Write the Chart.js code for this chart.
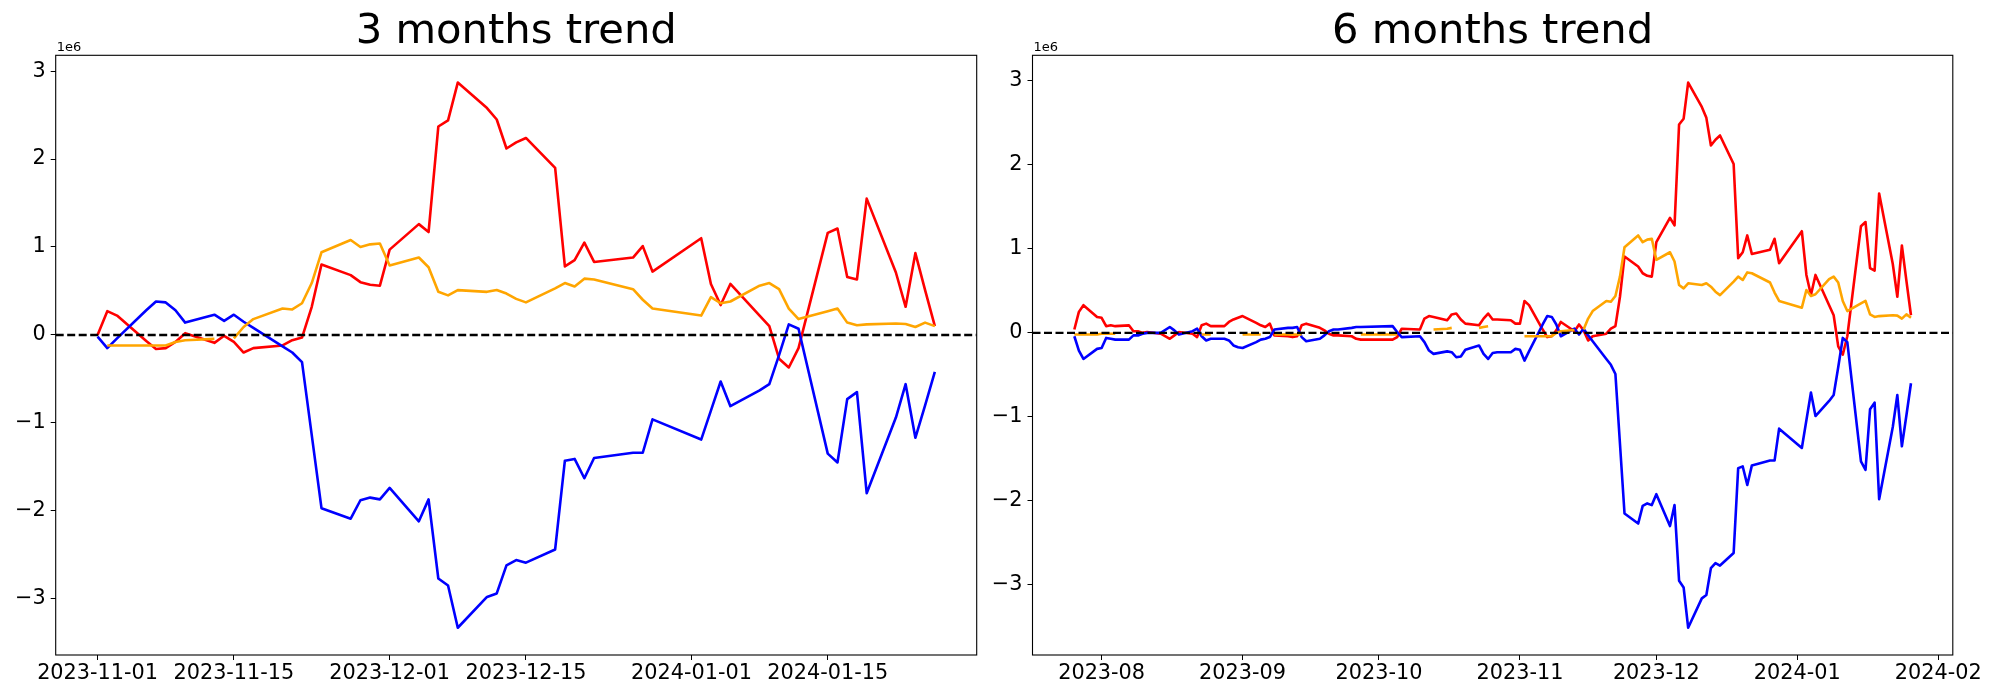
<!DOCTYPE html>
<html>
<head>
<meta charset="utf-8">
<script src="https://cdn.jsdelivr.net/npm/chart.js@4.4.1/dist/chart.umd.min.js"></script>
<style>
  body { margin: 0; background: #fff; width: 2000px; height: 700px; overflow: hidden; position: relative; }
  .box { position: absolute; top: 0; height: 700px; }
</style>
</head>
<body>
<div class="box" style="left:0;width:1000px"><canvas id="chart3m" width="1000" height="700"></canvas></div>
<div class="box" style="left:980px;width:1020px"><canvas id="chart6m" width="1020" height="700"></canvas></div>
<script>
// values are in millions (the "1e6" offset shown over each axis)

// 3 months
const dates3m = ['2023-11-01','2023-11-02','2023-11-03','2023-11-06','2023-11-07','2023-11-08','2023-11-09','2023-11-10','2023-11-13','2023-11-14',
  '2023-11-15','2023-11-16','2023-11-17','2023-11-20','2023-11-21','2023-11-22','2023-11-23','2023-11-24','2023-11-27','2023-11-28',
  '2023-11-29','2023-11-30','2023-12-01','2023-12-04','2023-12-05','2023-12-06','2023-12-07','2023-12-08','2023-12-11','2023-12-12',
  '2023-12-13','2023-12-14','2023-12-15','2023-12-18','2023-12-19','2023-12-20','2023-12-21','2023-12-22','2023-12-26','2023-12-27',
  '2023-12-28','2024-01-02','2024-01-03','2024-01-04','2024-01-05','2024-01-08','2024-01-09','2024-01-10','2024-01-11','2024-01-12',
  '2024-01-15','2024-01-16','2024-01-17','2024-01-18','2024-01-19','2024-01-22','2024-01-23','2024-01-24','2024-01-25','2024-01-26'];
const red3m = [0.00, 0.27, 0.22, -0.07, -0.16, -0.15, -0.08, 0.02, -0.09, -0.01,
  -0.08, -0.20, -0.15, -0.12, -0.06, -0.03, 0.32, 0.80, 0.68, 0.60,
  0.57, 0.56, 0.97, 1.26, 1.17, 2.37, 2.44, 2.87, 2.58, 2.45,
  2.12, 2.19, 2.24, 1.90, 0.78, 0.85, 1.05, 0.83, 0.88, 1.01,
  0.72, 1.10, 0.58, 0.34, 0.58, 0.22, 0.10, -0.27, -0.37, -0.15,
  1.16, 1.21, 0.66, 0.63, 1.55, 0.71, 0.32, 0.93, 0.51, 0.10];
const blue3m = [-0.02, -0.15, -0.04, 0.28, 0.38, 0.37, 0.28, 0.14, 0.23, 0.16,
  0.23, 0.15, 0.08, -0.13, -0.20, -0.31, -1.14, -1.97, -2.09, -1.88,
  -1.85, -1.87, -1.74, -2.12, -1.87, -2.77, -2.85, -3.33, -2.98, -2.94,
  -2.62, -2.56, -2.59, -2.44, -1.43, -1.41, -1.63, -1.40, -1.34, -1.34,
  -0.96, -1.19, -0.86, -0.53, -0.81, -0.63, -0.56, -0.23, 0.12, 0.07,
  -1.35, -1.45, -0.73, -0.65, -1.80, -0.94, -0.56, -1.17, -0.80, -0.42];
const orange3m = [null, -0.12, -0.12, -0.12, -0.12, -0.12, -0.08, -0.06, -0.045, null,
  -0.04, 0.09, 0.18, 0.30, 0.29, 0.36, 0.59, 0.94, 1.08, 1.00,
  1.03, 1.04, 0.79, 0.88, 0.77, 0.49, 0.45, 0.51, 0.49, 0.51,
  0.47, 0.41, 0.37, 0.53, 0.59, 0.55, 0.64, 0.63, 0.52, 0.40,
  0.30, 0.22, 0.43, 0.36, 0.38, 0.56, 0.59, 0.52, 0.30, 0.18,
  0.27, 0.30, 0.14, 0.11, 0.12, 0.13, 0.125, 0.09, 0.14, 0.10];
const ticks3m = ['2023-11-01', '2023-11-15', '2023-12-01', '2023-12-15', '2024-01-01', '2024-01-15'];

// 6 months
const dates6m = ['2023-07-26','2023-07-27','2023-07-28','2023-07-31','2023-08-01','2023-08-02','2023-08-03','2023-08-04','2023-08-07','2023-08-08',
  '2023-08-09','2023-08-10','2023-08-11','2023-08-14','2023-08-16','2023-08-17','2023-08-18','2023-08-21','2023-08-22','2023-08-23',
  '2023-08-24','2023-08-25','2023-08-28','2023-08-29','2023-08-30','2023-08-31','2023-09-01','2023-09-04','2023-09-05','2023-09-06',
  '2023-09-07','2023-09-08','2023-09-11','2023-09-12','2023-09-13','2023-09-14','2023-09-15','2023-09-18','2023-09-19','2023-09-20',
  '2023-09-21','2023-09-22','2023-09-25','2023-09-26','2023-09-27','2023-10-04','2023-10-05','2023-10-06','2023-10-10','2023-10-11',
  '2023-10-12','2023-10-13','2023-10-16','2023-10-17','2023-10-18','2023-10-19','2023-10-20','2023-10-23','2023-10-24','2023-10-25',
  '2023-10-26','2023-10-27','2023-10-30','2023-10-31'].concat(dates3m);
const red6m = [0.04, 0.25, 0.33, 0.19, 0.18, 0.08, 0.09, 0.08, 0.09, 0.02,
  0.02, 0.00, 0.01, -0.01, -0.07, -0.03, 0.01, -0.01, -0.05, 0.09,
  0.11, 0.08, 0.08, 0.13, 0.16, 0.18, 0.20, 0.12, 0.09, 0.07,
  0.11, -0.03, -0.04, -0.05, -0.04, 0.09, 0.11, 0.06, 0.03, -0.01,
  -0.03, -0.03, -0.04, -0.07, -0.08, -0.08, -0.05, 0.05, 0.04, 0.17,
  0.20, 0.19, 0.15, 0.22, 0.23, 0.16, 0.11, 0.09, 0.17, 0.23,
  0.16, 0.16, 0.15, 0.11,
  0.11, 0.38, 0.33, 0.04, -0.05, -0.04, 0.03, 0.13, 0.02, 0.10,
  0.03, -0.09, -0.04, -0.01, 0.05, 0.08, 0.43, 0.91, 0.79, 0.71,
  0.68, 0.67, 1.08, 1.37, 1.28, 2.48, 2.55, 2.98, 2.69, 2.56,
  2.23, 2.30, 2.35, 2.01, 0.89, 0.96, 1.16, 0.94, 0.99, 1.12,
  0.83, 1.21, 0.69, 0.45, 0.69, 0.33, 0.21, -0.16, -0.26, -0.04,
  1.27, 1.32, 0.77, 0.74, 1.66, 0.82, 0.43, 1.04, 0.62, 0.21];
const blue6m = [-0.04, -0.21, -0.31, -0.19, -0.18, -0.06, -0.07, -0.08, -0.08, -0.03,
  -0.03, -0.01, 0.00, 0.00, 0.07, 0.03, -0.02, 0.02, 0.05, -0.04,
  -0.09, -0.07, -0.07, -0.09, -0.15, -0.17, -0.18, -0.11, -0.08, -0.07,
  -0.05, 0.04, 0.06, 0.06, 0.07, -0.05, -0.10, -0.07, -0.03, 0.02,
  0.04, 0.04, 0.06, 0.07, 0.07, 0.08, 0.01, -0.05, -0.04, -0.11,
  -0.21, -0.25, -0.22, -0.23, -0.29, -0.28, -0.20, -0.15, -0.25, -0.31,
  -0.24, -0.23, -0.23, -0.19,
  -0.20, -0.33, -0.22, 0.10, 0.20, 0.19, 0.10, -0.04, 0.05, -0.02,
  0.05, -0.03, -0.10, -0.31, -0.38, -0.49, -1.32, -2.15, -2.27, -2.06,
  -2.03, -2.05, -1.92, -2.30, -2.05, -2.95, -3.03, -3.51, -3.16, -3.12,
  -2.80, -2.74, -2.77, -2.62, -1.61, -1.59, -1.81, -1.58, -1.52, -1.52,
  -1.14, -1.37, -1.04, -0.71, -0.99, -0.81, -0.74, -0.41, -0.06, -0.11,
  -1.53, -1.63, -0.91, -0.83, -1.98, -1.12, -0.74, -1.35, -0.98, -0.60];
const orange6m = [-0.02, -0.02, -0.02, -0.02, -0.01, -0.01, -0.01, -0.01, null, null,
  null, null, null, null, null, null, null, null, null, -0.02,
  -0.02, -0.02, null, null, null, null, -0.02, -0.02, -0.02, null,
  null, -0.02, -0.02, -0.02, -0.02, -0.02, null, null, null, null,
  null, null, null, null, -0.02, -0.02, -0.02, null, null, null,
  null, 0.04, 0.05, 0.06, null, null, null, 0.06, 0.07, 0.08,
  null, null, null, null,
  null, -0.04, -0.04, -0.04, -0.04, -0.04, 0.00, 0.02, 0.035, null,
  0.04, 0.17, 0.26, 0.38, 0.37, 0.44, 0.67, 1.02, 1.16, 1.08,
  1.11, 1.12, 0.87, 0.96, 0.85, 0.57, 0.53, 0.59, 0.57, 0.59,
  0.55, 0.49, 0.45, 0.61, 0.67, 0.63, 0.72, 0.71, 0.60, 0.48,
  0.38, 0.30, 0.51, 0.44, 0.46, 0.64, 0.67, 0.60, 0.38, 0.26,
  0.35, 0.38, 0.22, 0.19, 0.20, 0.21, 0.205, 0.17, 0.22, 0.18];
const ticks6m = ['2023-08', '2023-09', '2023-10', '2023-11', '2023-12', '2024-01', '2024-02'];

const yTicks = [-3, -2, -1, 0, 1, 2, 3];

const FONT = 'DejaVu Sans';
Chart.defaults.font.family = FONT;
Chart.defaults.color = '#000';

function toDay(s) {
    let parts = s.split('-');
    let day = parts.length > 2 ? +parts[2] : 1;
    return Date.UTC(+parts[0], +parts[1] - 1, day) / 86400000;
}

function toPoints(dates, values) {
    return dates.map((d, i) => ({ x: toDay(d), y: values[i] }));
}

// little matplotlib-like frame and the 1e6 offset label
const framePlugin = {
    id: 'frame',
    afterDraw(chart) {
        const a = chart.chartArea;
        const ctx = chart.ctx;
        ctx.save();
        ctx.strokeStyle = '#000';
        ctx.lineWidth = 1.1;
        ctx.strokeRect(a.left, a.top, a.right - a.left, a.bottom - a.top);
        ctx.fillStyle = '#000';
        ctx.font = '13px ' + FONT;
        ctx.textAlign = 'left';
        ctx.textBaseline = 'alphabetic';
        ctx.fillText('1e6', a.left + 1, a.top - 4);
        ctx.restore();
    }
};

function makeChart(id, title, dates, red, blue, orange, tickDates, yWidth, rightPad) {
    let first = toDay(dates[0]);
    let last = toDay(dates[dates.length - 1]);
    let xMin = first - (last - first) * 0.05;
    let xMax = last + (last - first) * 0.05;

    let all = red.concat(blue, orange).filter(v => v !== null);
    let lo = Math.min(...all);
    let hi = Math.max(...all);
    let yMin = lo - (hi - lo) * 0.05;
    let yMax = hi + (hi - lo) * 0.05;

    let tickValues = tickDates.map(toDay);

    let line = (data, color, order) => ({
        data: data,
        borderColor: color,
        borderWidth: 2.6,
        pointRadius: 0,
        tension: 0,
        spanGaps: false,
        borderJoinStyle: 'round',
        order: order
    });

    return new Chart(document.getElementById(id), {
        type: 'line',
        data: {
            datasets: [
                line(toPoints(dates, red), '#ff0000', 3),
                line(toPoints(dates, blue), '#0000ff', 2),
                line(toPoints(dates, orange), '#ffa500', 1),
                {
                    data: [{ x: xMin, y: 0 }, { x: xMax, y: 0 }],
                    borderColor: '#000',
                    borderWidth: 2.4,
                    borderDash: [8, 3.5],
                    pointRadius: 0,
                    order: 0
                }
            ]
        },
        options: {
            responsive: false,
            animation: false,
            devicePixelRatio: 1,
            layout: { padding: { left: 0, right: rightPad, top: 0, bottom: 0 } },
            plugins: {
                legend: { display: false },
                tooltip: { enabled: false },
                title: {
                    display: true,
                    text: title,
                    fullSize: false,
                    color: '#000',
                    font: { family: FONT, size: 41.7, weight: 'normal', lineHeight: 1 },
                    padding: { top: 11.5, bottom: 2.1 }
                }
            },
            scales: {
                x: {
                    type: 'linear',
                    min: xMin,
                    max: xMax,
                    afterFit: (s) => { s.height = 45; },
                    afterBuildTicks: (s) => { s.ticks = tickValues.map(v => ({ value: v })); },
                    ticks: {
                        autoSkip: false,
                        maxRotation: 0,
                        padding: 1,
                        font: { size: 20.8 },
                        callback: (v, i) => tickDates[i]
                    },
                    grid: { drawOnChartArea: false, tickLength: 5, color: '#000' },
                    border: { display: false }
                },
                y: {
                    min: yMin,
                    max: yMax,
                    afterFit: (s) => { s.width = yWidth; },
                    afterBuildTicks: (s) => { s.ticks = yTicks.map(v => ({ value: v })); },
                    ticks: {
                        padding: 5,
                        font: { size: 20.8 },
                        callback: (v) => v < 0 ? '\u2212' + Math.abs(v) : String(v)
                    },
                    grid: { drawOnChartArea: false, tickLength: 5, color: '#000' },
                    border: { display: false }
                }
            }
        },
        plugins: [framePlugin]
    });
}

makeChart('chart3m', '3 months trend', dates3m, red3m, blue3m, orange3m, ticks3m, 55.7, 23.3);
makeChart('chart6m', '6 months trend', dates6m, red6m, blue6m, orange6m, ticks6m, 52.5, 47.2);
</script>
</body>
</html>
